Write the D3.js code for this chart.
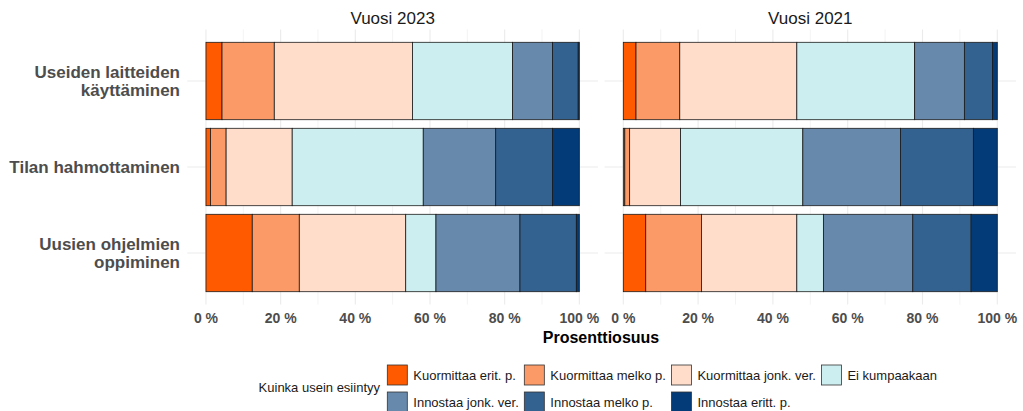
<!DOCTYPE html>
<html>
<head>
<meta charset="utf-8">
<script src="https://cdn.jsdelivr.net/npm/d3@7"></script>
<style>
  html, body { margin: 0; padding: 0; background: #fff; }
  svg { display: block; font-family: "Liberation Sans", Arial, sans-serif; }
</style>
</head>
<body>
<svg id="chart" width="1023" height="411"></svg>
<script>
// ---- Data ----
const categories = ["Useiden laitteiden käyttäminen", "Tilan hahmottaminen", "Uusien ohjelmien oppiminen"];
const categoryLines = [["Useiden laitteiden", "käyttäminen"], ["Tilan hahmottaminen"], ["Uusien ohjelmien", "oppiminen"]];
const panelTitles = ["Vuosi 2023", "Vuosi 2021"];
const levels = ["Kuormittaa erit. p.", "Kuormittaa melko p.", "Kuormittaa jonk. ver.", "Ei kumpaakaan",
                "Innostaa jonk. ver.", "Innostaa melko p.", "Innostaa eritt. p."];
const levelColors = ["#FF5A00", "#FC9A67", "#FFDDCA", "#CDEEF1", "#6789AB", "#336291", "#023B78"];
// percentages per category, in level order
const values2023 = [
  [4.3, 14.0, 37.0, 26.8, 10.7, 6.9, 0.3],
  [1.2, 4.2, 17.7, 35.1, 19.4, 15.2, 7.2],
  [12.4, 12.6, 28.5, 8.1, 22.5, 15.1, 0.8]
];
const values2021 = [
  [3.4, 11.7, 31.3, 31.5, 13.3, 7.5, 1.3],
  [0.4, 1.3, 13.6, 32.7, 26.1, 19.5, 6.4],
  [6.0, 14.9, 25.5, 7.1, 23.9, 15.6, 7.0]
];
const xTicks = [0, 20, 40, 60, 80, 100];
const xMinorTicks = [10, 30, 50, 70, 90];
const xTitle = "Prosenttiosuus";
const legendTitle = "Kuinka usein esiintyy";

// ---- Layout ----
const svg = d3.select("#chart");
const panelsData = [values2023, values2021];
const panelRanges = [[187.3, 598], [604.6, 1016]];
const yRange = [29.4, 304.6];

const y = d3.scaleBand().domain(categories).range(yRange).paddingInner(0.1).paddingOuter(0.15);
const color = d3.scaleOrdinal().domain(levels).range(levelColors);

panelsData.forEach((vals, p) => {
  const x = d3.scaleLinear().domain([-5, 105]).range(panelRanges[p]);
  const g = svg.append("g");

  // grid
  g.selectAll("line.minor").data(xMinorTicks).join("line")
    .attr("x1", d => x(d)).attr("x2", d => x(d))
    .attr("y1", yRange[0]).attr("y2", yRange[1])
    .attr("stroke", "#ebebeb").attr("stroke-width", 0.6);
  g.selectAll("line.major").data(xTicks).join("line")
    .attr("x1", d => x(d)).attr("x2", d => x(d))
    .attr("y1", yRange[0]).attr("y2", yRange[1])
    .attr("stroke", "#ebebeb").attr("stroke-width", 1.1);
  g.selectAll("line.hgrid").data(categories).join("line")
    .attr("x1", panelRanges[p][0]).attr("x2", panelRanges[p][1])
    .attr("y1", d => y(d) + y.bandwidth() / 2).attr("y2", d => y(d) + y.bandwidth() / 2)
    .attr("stroke", "#ebebeb").attr("stroke-width", 1.1);

  // bars
  categories.forEach((cat, ci) => {
    const stack = [];
    let acc = 0;
    vals[ci].forEach((v, li) => { stack.push({ level: levels[li], x0: acc, x1: acc + v }); acc += v; });
    const total = acc;
    g.append("g").selectAll("rect").data(stack).join("rect")
      .attr("x", d => x(d.x0 / total * 100))
      .attr("width", d => Math.max(0, x(d.x1 / total * 100) - x(d.x0 / total * 100)))
      .attr("y", y(cat))
      .attr("height", y.bandwidth())
      .attr("fill", d => color(d.level))
      .attr("stroke", "#1a1a1a")
      .attr("stroke-width", 0.8);
  });

  // x axis labels
  g.selectAll("text.tick").data(xTicks).join("text")
    .attr("x", d => x(d)).attr("y", 322.5)
    .attr("text-anchor", "middle")
    .attr("font-size", 14).attr("font-weight", "bold").attr("fill", "#4d4d4d")
    .text(d => d + " %");

  // strip title
  g.append("text")
    .attr("x", (panelRanges[p][0] + panelRanges[p][1]) / 2).attr("y", 24)
    .attr("text-anchor", "middle").attr("font-size", 17).attr("fill", "#1a1a1a")
    .text(panelTitles[p]);
});

// y labels
categories.forEach((cat, ci) => {
  const cy = y(cat) + y.bandwidth() / 2;
  const lines = categoryLines[ci];
  const lh = 17.5;
  const t = svg.append("text")
    .attr("text-anchor", "end").attr("font-size", 17).attr("font-weight", "bold").attr("fill", "#4d4d4d");
  lines.forEach((ln, i) => {
    t.append("tspan").attr("x", 180).attr("y", cy + 6 - (lines.length - 1) * lh / 2 + i * lh).text(ln);
  });
});

// x title
svg.append("text")
  .attr("x", 601).attr("y", 343).attr("text-anchor", "middle")
  .attr("font-size", 16).attr("font-weight", "bold").attr("fill", "#000")
  .text(xTitle);

// legend
const lg = svg.append("g");
lg.append("text").attr("x", 380).attr("y", 392).attr("text-anchor", "end")
  .attr("font-size", 13).attr("fill", "#1a1a1a").text(legendTitle);

const nCols = 4;
const keySize = 20;
const labelGap = 6;
const rowTops = [365, 392];
// measure label widths per column
const meas = svg.append("text").attr("font-size", 13).attr("visibility", "hidden");
const widths = levels.map(l => { meas.text(l); return meas.node().getComputedTextLength(); });
meas.remove();
const colX = [387.3];
for (let c = 1; c < nCols; c++) {
  let w = 0;
  levels.forEach((l, i) => { if (i % nCols === c - 1) w = Math.max(w, widths[i]); });
  colX.push(colX[c - 1] + keySize + labelGap + w + 5.5);
}
levels.forEach((l, i) => {
  const c = i % nCols, r = Math.floor(i / nCols);
  lg.append("rect").attr("x", colX[c]).attr("y", rowTops[r])
    .attr("width", keySize).attr("height", keySize)
    .attr("fill", color(l)).attr("stroke", "#333").attr("stroke-width", 0.8);
  lg.append("text").attr("x", colX[c] + keySize + labelGap).attr("y", rowTops[r] + keySize / 2 + 4.5)
    .attr("font-size", 13).attr("fill", "#1a1a1a").text(l);
});
</script>
</body>
</html>
